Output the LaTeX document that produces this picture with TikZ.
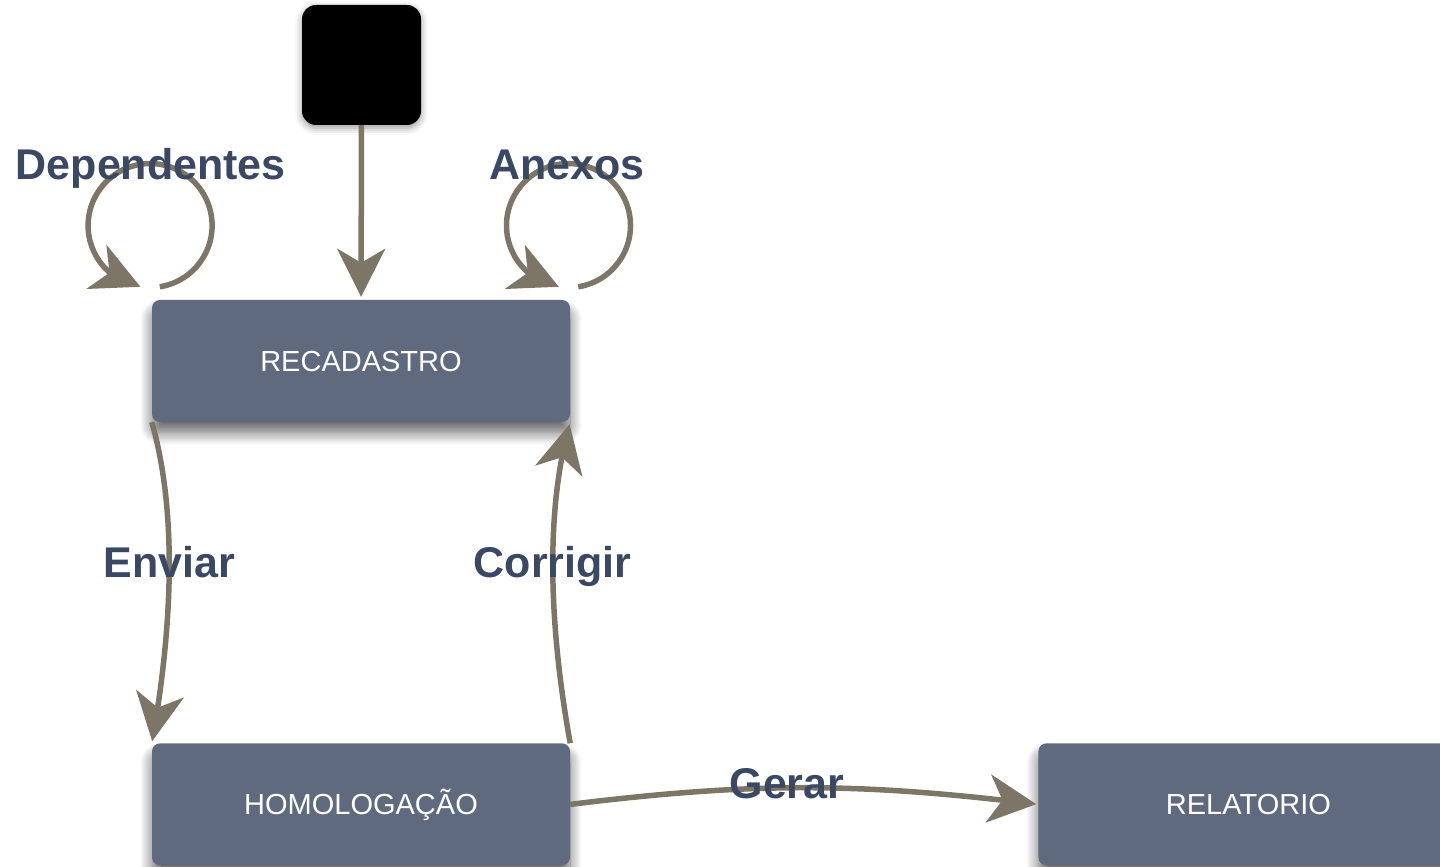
\documentclass[tikz,border=0pt]{standalone}
\usepackage{fontspec}
\setmainfont{Liberation Sans}
\usetikzlibrary{arrows.meta,bending,positioning,shadows.blur}
\definecolor{boxfill}{RGB}{95,106,126}
\definecolor{arrowcol}{RGB}{125,117,101}
\definecolor{lblcol}{RGB}{59,72,99}

\begin{document}
\begin{tikzpicture}[
    x=1pt, y=1pt,
    box/.style={fill=boxfill, rounded corners=8pt, minimum width=418pt, minimum height=122pt, text=white, font=\fontsize{29}{34}\selectfont, text height=21pt, text depth=0pt, blur shadow={shadow xshift=0pt, shadow yshift=-11pt, shadow blur radius=12pt, shadow blur steps=14, shadow opacity=60}},
    arr/.style={draw=arrowcol, line width=5.5pt, -{Stealth[length=48pt, width=48pt, inset=14pt]}},
    lbl/.style={text=lblcol, font=\bfseries\fontsize{43}{50}\selectfont, text height=31pt, text depth=0pt, inner sep=0pt}
  ]
  \useasboundingbox (0,0) rectangle (1440,867);
  \clip (0,0) rectangle (1440,867);

  \node[fill=black, rounded corners=14pt, minimum width=119pt, minimum height=120pt, blur shadow={shadow xshift=0pt, shadow yshift=-3pt, shadow blur radius=7pt, shadow opacity=40}] (start) at (361.5,802) {};
  \node[box] (rec) at (361,506) {RECADASTRO};
  \node[box, below=321pt of rec] (hom) {HOMOLOGAÇÃO};
  \node[box, right=468pt of hom, minimum width=420pt] (rel) {RELATORIO};

  % start -> recadastro
  \draw[arr, shorten >=3pt] (start) -- (rec);

  % self loops
  \draw[arr] ([shift={(8,13)}]rec.north west) arc[start angle=-81, end angle=261, radius=62];
  \draw[arr] ([shift={(8,13)}]rec.north east) arc[start angle=-81, end angle=261, radius=62];
  \node[lbl] (deplbl) at ([shift={(-1,136)}]rec.north west) {Dependentes};
  \node[lbl] (anxlbl) at ([shift={(-3.5,136)}]rec.north east) {Anexos};

  % flow between states
  \draw[arr, shorten >=2pt] (rec.south west) .. controls +(28,-98) and +(18,100) .. node[lbl, pos=0.44] {Enviar} (hom.north west);
  \draw[arr, shorten >=2pt] (hom.north east) .. controls +(-18,100) and +(-28,-98) .. node[lbl, pos=0.56] {Corrigir} (rec.south east);
  \draw[arr, shorten >=2pt] (hom.east) to[bend left=7] node[lbl, pos=0.46, yshift=5pt] {Gerar} (rel.west);
\end{tikzpicture}
\end{document}
